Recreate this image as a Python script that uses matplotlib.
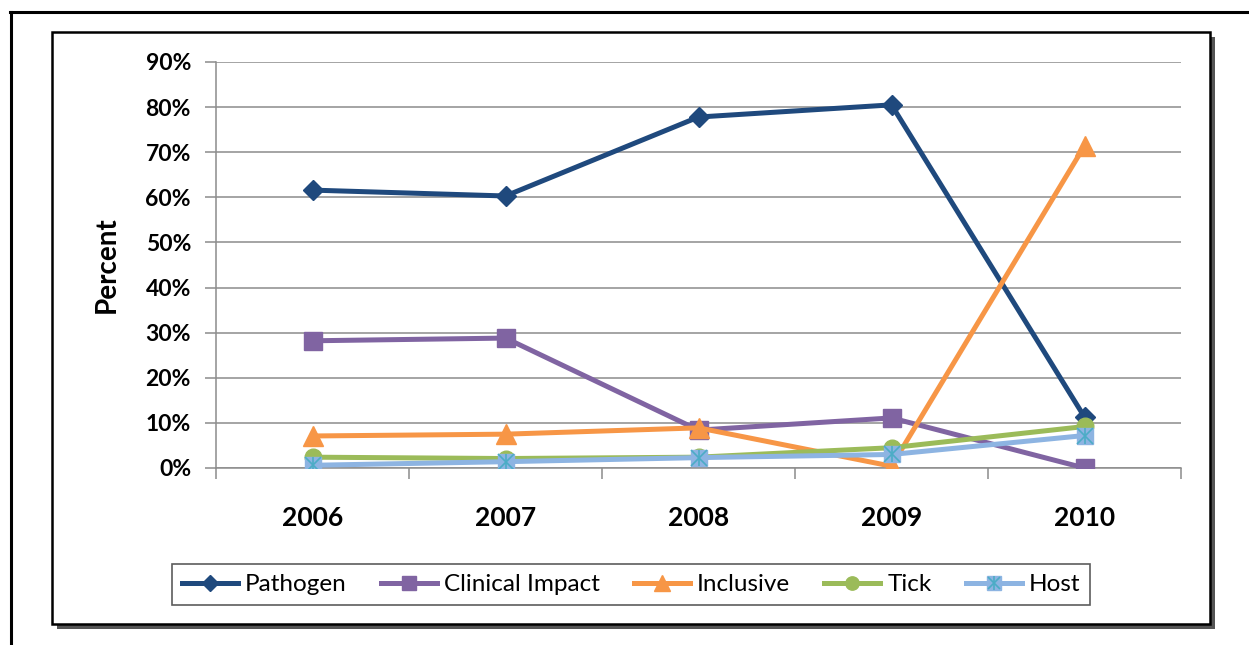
import matplotlib
matplotlib.use('Agg')
import matplotlib.pyplot as plt
from matplotlib.patches import Rectangle
from matplotlib.lines import Line2D
from matplotlib.ticker import FuncFormatter, FixedLocator

# 연도별 비율 (%)
years = ['2006', '2007', '2008', '2009', '2010']
pathogen = [61.6, 60.3, 77.8, 80.5, 11.3]
clinical = [28.2, 28.8, 8.4, 11.1, 0.0]
inclusive = [7.1, 7.5, 8.9, 0.4, 71.4]
tick = [2.4, 2.1, 2.4, 4.5, 9.2]
host = [0.6, 1.4, 2.3, 3.0, 7.2]

W, H = 1249, 645
fig = plt.figure(figsize=(W / 100, H / 100), dpi=100)
plt.rcParams['font.family'] = ['Lato', 'DejaVu Sans']

def fx(px):
    return px / W

def fy(py):
    return 1 - py / H

# 바깥 테두리 (위, 왼쪽 선)
fig.add_artist(Line2D([fx(10), 1.0], [fy(12), fy(12)], color='black', lw=2.2))
fig.add_artist(Line2D([fx(11), fx(11)], [fy(12), 0.0], color='black', lw=2.2))

# 그림자 있는 안쪽 박스
fig.add_artist(Rectangle((fx(57), fy(629)), fx(1215) - fx(57), fy(37) - fy(629),
                         facecolor='#555555', edgecolor='none', zorder=0))
fig.add_artist(Rectangle((fx(52), fy(624)), fx(1210) - fx(52), fy(32) - fy(624),
                         facecolor='white', edgecolor='black', lw=1.8, zorder=0.5))

ax = fig.add_axes([fx(216), fy(468), fx(1181) - fx(216), fy(62) - fy(468)])
ax.set_zorder(2)
ax.set_facecolor('none')

x = list(range(len(years)))
lw = 3.6
ax.plot(x, pathogen, color='#1F497D', lw=lw, marker='D', ms=10, label='Pathogen', zorder=3)
ax.plot(x, clinical, color='#8064A2', lw=lw, marker='s', ms=13, label='Clinical Impact', zorder=4)
ax.plot(x, inclusive, color='#F79646', lw=lw, marker='^', ms=14, label='Inclusive', zorder=5)
ax.plot(x, tick, color='#9BBB59', lw=lw, marker='o', ms=12, label='Tick', zorder=6)
h_line, = ax.plot(x, host, color='#8DB4E2', lw=lw, marker='s', ms=12, label='Host', zorder=7)
h_x, = ax.plot(x, host, ls='none', marker='x', ms=11, mew=1.2, color='#4BACC6', zorder=8)
h_v, = ax.plot(x, host, ls='none', marker='|', ms=12, mew=1.2, color='#4BACC6', zorder=8)

ax.set_xlim(-0.5, 4.5)
ax.set_ylim(0, 90)
ax.set_yticks(range(0, 91, 10))
ax.yaxis.set_major_formatter(FuncFormatter(lambda v, p: '{:.0f}%'.format(v)))
ax.set_xticks(x)
ax.set_xticklabels(years)
ax.xaxis.set_minor_locator(FixedLocator([-0.5, 0.5, 1.5, 2.5, 3.5, 4.5]))

ax.grid(axis='y', color='#8C8C8C', lw=1.1, zorder=0)
ax.set_axisbelow(True)
for s in ['top', 'right']:
    ax.spines[s].set_visible(False)
for s in ['left', 'bottom']:
    ax.spines[s].set_color('#8C8C8C')
    ax.spines[s].set_linewidth(1.1)

ax.tick_params(axis='y', length=8, width=1.1, color='#8C8C8C', pad=10, labelsize=16.5)
ax.tick_params(axis='x', which='major', length=0, pad=27, labelsize=19)
ax.tick_params(axis='x', which='minor', length=8, width=1.1, color='#8C8C8C')
for t in ax.get_xticklabels() + ax.get_yticklabels():
    t.set_fontweight('bold')

fig.text(fx(107), fy(265), 'Percent', rotation=90, ha='center', va='center',
         fontsize=20, fontweight='bold')

handles, labels = ax.get_legend_handles_labels()
handles[4] = (h_line, h_x, h_v)
leg = fig.legend(handles, labels, loc='center', bbox_to_anchor=(fx(631), fy(584.5)),
                 ncol=5, fontsize=17.5, frameon=True, fancybox=False, edgecolor='#333333',
                 handlelength=2.3, handletextpad=0.3, columnspacing=1.4, borderpad=0.4,
                 markerscale=0.8)
leg.get_frame().set_linewidth(1.2)

fig.savefig('out.png', dpi=100)
